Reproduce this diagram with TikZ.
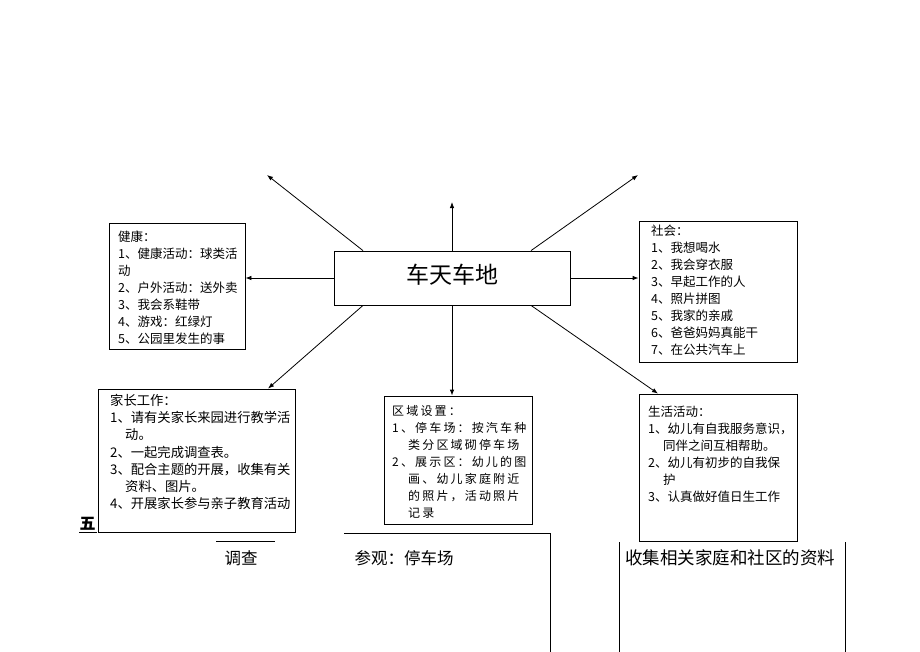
\documentclass[tikz,border=0pt]{standalone}
\usepackage{fontspec}
\newfontfamily\cjk{Noto Sans CJK SC}
\newfontfamily\cjkwide[LetterSpace=18]{Noto Sans CJK SC}
\usetikzlibrary{arrows.meta}
\begin{document}
\begin{tikzpicture}[x=1pt,y=-1pt,
  box/.style={draw,line width=0.8pt,inner sep=0pt},
  arr/.style={line width=0.8pt,-{Latex[length=6pt,width=4.5pt]}},
  plain/.style={line width=0.8pt},
  txt/.style={inner sep=0pt,anchor=north west,align=left,font=\cjk\fontsize{12.5}{17}\selectfont},
  wtxt/.style={inner sep=0pt,anchor=north west,align=left,font=\cjkwide\fontsize{12}{17}\selectfont},
  big/.style={inner sep=0pt,font=\cjk\fontsize{16.5}{20}\selectfont}]
\useasboundingbox (0,0) rectangle (920,651);
\fill[white] (0,0) rectangle (920,651);

% boxes
\node[box,minimum width=236pt,minimum height=54pt] (center) at (452,278) {};
\node[inner sep=0pt,font=\cjk\fontsize{23}{26}\selectfont] (title) at (452,275) {车天车地};
\node[box,minimum width=136pt,minimum height=126pt] (health) at (177,286) {};
\node[box,minimum width=158pt,minimum height=141pt] (social) at (718,291.5) {};
\node[box,minimum width=197pt,minimum height=143pt] (family) at (196.5,460.5) {};
\node[box,minimum width=148pt,minimum height=128pt] (zone) at (458,460) {};
\node[box,minimum width=158pt,minimum height=147pt] (life) at (718,467.5) {};

% texts
\node[txt] (healthtxt) at (118,231) {健康：\\1、健康活动：球类活\\动\\2、户外活动：送外卖\\3、我会系鞋带\\4、游戏：红绿灯\\5、公园里发生的事};
\node[txt] (socialtxt) at (651,225) {社会：\\1、我想喝水\\2、我会穿衣服\\3、早起工作的人\\4、照片拼图\\5、我家的亲戚\\6、爸爸妈妈真能干\\7、在公共汽车上};
\node[txt,font=\cjk\fontsize{13.3}{17.2}\selectfont] (familytxt) at (110,394) {家长工作：\\1、请有关家长来园进行教学活\\\hspace*{15pt}动。\\2、一起完成调查表。\\3、配合主题的开展，收集有关\\\hspace*{15pt}资料、图片。\\4、开展家长参与亲子教育活动};
\node[wtxt] (zonetxt) at (392,405) {区域设置：\\1、停车场：按汽车种\\\hspace*{16pt}类分区域砌停车场\\2、展示区：幼儿的图\\\hspace*{16pt}画、幼儿家庭附近\\\hspace*{16pt}的照片，活动照片\\\hspace*{16pt}记录};
\node[txt] (lifetxt) at (648,406) {生活活动：\\1、幼儿有自我服务意识，\\\hspace*{15pt}同伴之间互相帮助。\\2、幼儿有初步的自我保\\\hspace*{15pt}护\\3、认真做好值日生工作};

% free arrow ends
\coordinate (tl) at (267,175);
\coordinate (tp) at (452,202);
\coordinate (tr) at (638,175);

% arrows
\draw[arr] ([xshift=-89pt]center.north) -- (tl);
\draw[arr] (center.north) -- (tp);
\draw[arr] ([xshift=79pt]center.north) -- (tr);
\draw[arr] (center.west) -- (center.west -| health.east);
\draw[arr] (center.east) -- (center.east -| social.west);
\draw[arr] ([xshift=-89pt]center.south) -- ([xshift=71.5pt]family.north);
\draw[arr] (center.south) -- (center.south |- zone.north);
\draw[arr] ([xshift=79pt]center.south) -- ([xshift=-60pt]life.north);

% bottom part
\node[inner sep=0pt,font=\cjk\bfseries\fontsize{16}{18}\selectfont,anchor=south] (wu) at (87.5,531) {五};
\draw[plain] (79,532) -- (97,532);
\draw[plain] (216,541) -- (275,541);
\draw[plain] (344,533) -- (550,533) -- (550,655);
\draw[plain] (619,542) -- (619,655);
\draw[plain] (845,542) -- (845,655);
\node[big] (survey) at (241,558) {调查};
\node[big] (visit) at (404,558) {参观：停车场};
\node[inner sep=0pt,font=\cjk\fontsize{17.5}{20}\selectfont] (collect) at (730,558) {收集相关家庭和社区的资料};
\end{tikzpicture}
\end{document}
